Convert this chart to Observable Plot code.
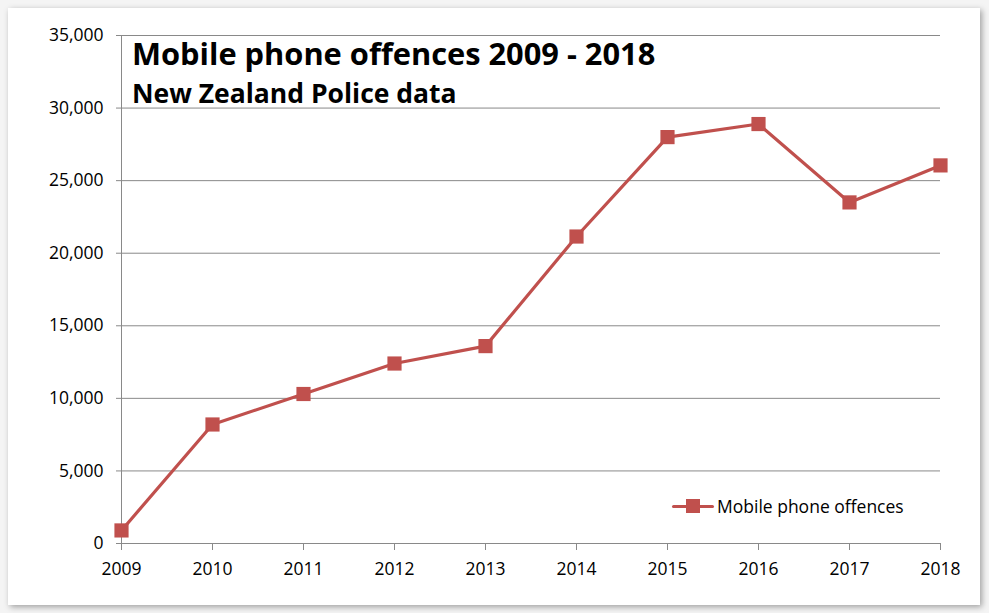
<!DOCTYPE html>
<html>
<head>
<meta charset="utf-8">
<script src="https://cdn.jsdelivr.net/npm/d3@7"></script>
<script src="https://cdn.jsdelivr.net/npm/@observablehq/plot@0.6"></script>
<style>
  html, body { margin: 0; padding: 0; background: #ffffff; }
  #wrap { position: relative; width: 989px; height: 613px; overflow: hidden; background: #f4f4f4; }
  #frame { position: absolute; left: 8px; top: 8px; width: 972px; height: 597px; background: #fff;
           box-shadow: 2px 2px 6px rgba(0,0,0,0.35); }
  #chart { position: absolute; left: 0; top: 0; }
  #chart svg text { font-family: "Open Sans", sans-serif; font-size: 17.5px; fill: #000; }
  #title { position: absolute; left: 132px; top: 38px; font-family: "Open Sans", sans-serif;
           font-weight: 700; font-size: 30.8px; color: #000; white-space: nowrap; line-height: 1; }
  #subtitle { position: absolute; left: 132px; top: 80px; font-family: "Open Sans", sans-serif;
           font-weight: 700; font-size: 26.5px; color: #000; white-space: nowrap; line-height: 1; }
  #legend { position: absolute; left: 672px; top: 494px; display: flex; align-items: center;
            font-family: "Open Sans", sans-serif; font-size: 17.5px; color: #000; white-space: nowrap; }
  #legend .sw { position: relative; width: 42px; height: 22px; margin-right: 3px; }
  #legend .sw .ln { position: absolute; left: 0; top: 9.5px; width: 42px; height: 3px; background: #C0504D; border-radius: 1.5px; }
  #legend .sw .mk { position: absolute; left: 14px; top: 4px; width: 14px; height: 14px; background: #C0504D; }
</style>
</head>
<body>
<div id="wrap">
  <div id="frame"></div>
  <div id="chart"></div>
  <div id="title">Mobile phone offences 2009 - 2018</div>
  <div id="subtitle">New Zealand Police data</div>
  <div id="legend"><div class="sw"><div class="ln"></div><div class="mk"></div></div><span>Mobile phone offences</span></div>
</div>
<script>
const years = [2009, 2010, 2011, 2012, 2013, 2014, 2015, 2016, 2017, 2018];
const offences = [900, 8200, 10300, 12400, 13600, 21150, 28000, 28900, 23500, 26050];
const yTicks = [0, 5000, 10000, 15000, 20000, 25000, 30000, 35000];
const seriesName = "Mobile phone offences";

const data = years.map((y, i) => ({year: y, value: offences[i]}));
const red = "#C0504D";
const grid = "#898989";
const font = "'Open Sans', sans-serif";

const chart = Plot.plot({
  width: 989,
  height: 613,
  marginLeft: 121,
  marginRight: 49,
  marginTop: 35,
  marginBottom: 70,
  style: { background: "transparent", fontFamily: font, fontSize: "17.5px", color: "#000", overflow: "visible" },
  x: { domain: [2009, 2018], label: null },
  y: { domain: [0, 35000], label: null },
  marks: [
    Plot.ruleY(yTicks, { stroke: grid, strokeWidth: 1, strokeOpacity: 1 }),
    Plot.ruleX([2009], { stroke: grid, strokeWidth: 1 }),
    Plot.axisY({ ticks: yTicks, tickSize: 5, tickPadding: 13, tickFormat: d3.format(","), stroke: grid, label: null, strokeOpacity: 1 }),
    Plot.axisX({ ticks: years, tickSize: 7, tickPadding: 12, tickFormat: d3.format("d"), stroke: grid, label: null, strokeOpacity: 1 }),
    Plot.line(data, { x: "year", y: "value", stroke: red, strokeWidth: 3.2 }),
    Plot.dot(data, { x: "year", y: "value", symbol: "square", fill: red, stroke: null, r: 8 })
  ]
});
document.getElementById("chart").appendChild(chart);
</script>
</body>
</html>
